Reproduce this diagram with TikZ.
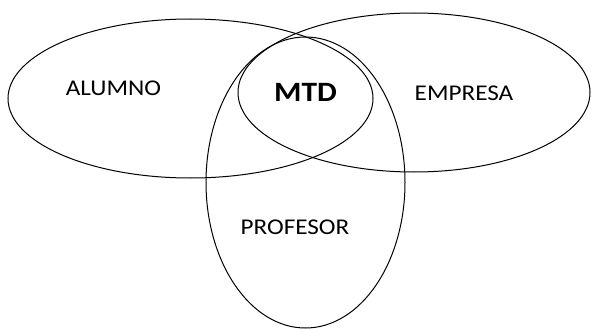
\documentclass[tikz,border=0pt]{standalone}
\usepackage{fontspec}
\setmainfont[FakeStretch=1.12]{Carlito}
\usepackage{tikz}
\usetikzlibrary{positioning}

\begin{document}
\begin{tikzpicture}[
    x=1pt, y=-1pt,
    set/.style={draw, line width=1pt},
    lbl/.style={font=\fontsize{22.5}{26}\selectfont},
    core/.style={font=\fontsize{28}{32}\selectfont\bfseries}
]
\useasboundingbox (0,0) rectangle (595,329);
\draw[set] (190.5,98.5) ellipse [x radius=182.5, y radius=79.5];
\draw[set] (414,92.5) ellipse [x radius=176, y radius=79.5];
\draw[set] (305.5,182.5) ellipse [x radius=99.5, y radius=145.5];

\node[lbl] (alumno) at (113.5,88) {ALUMNO};
\node[core] (mtd) at (305.5,92) {MTD};
\node[lbl] (empresa) at (464,93) {EMPRESA};
\node[lbl] (profesor) at (295,227) {PROFESOR};
\end{tikzpicture}
\end{document}
